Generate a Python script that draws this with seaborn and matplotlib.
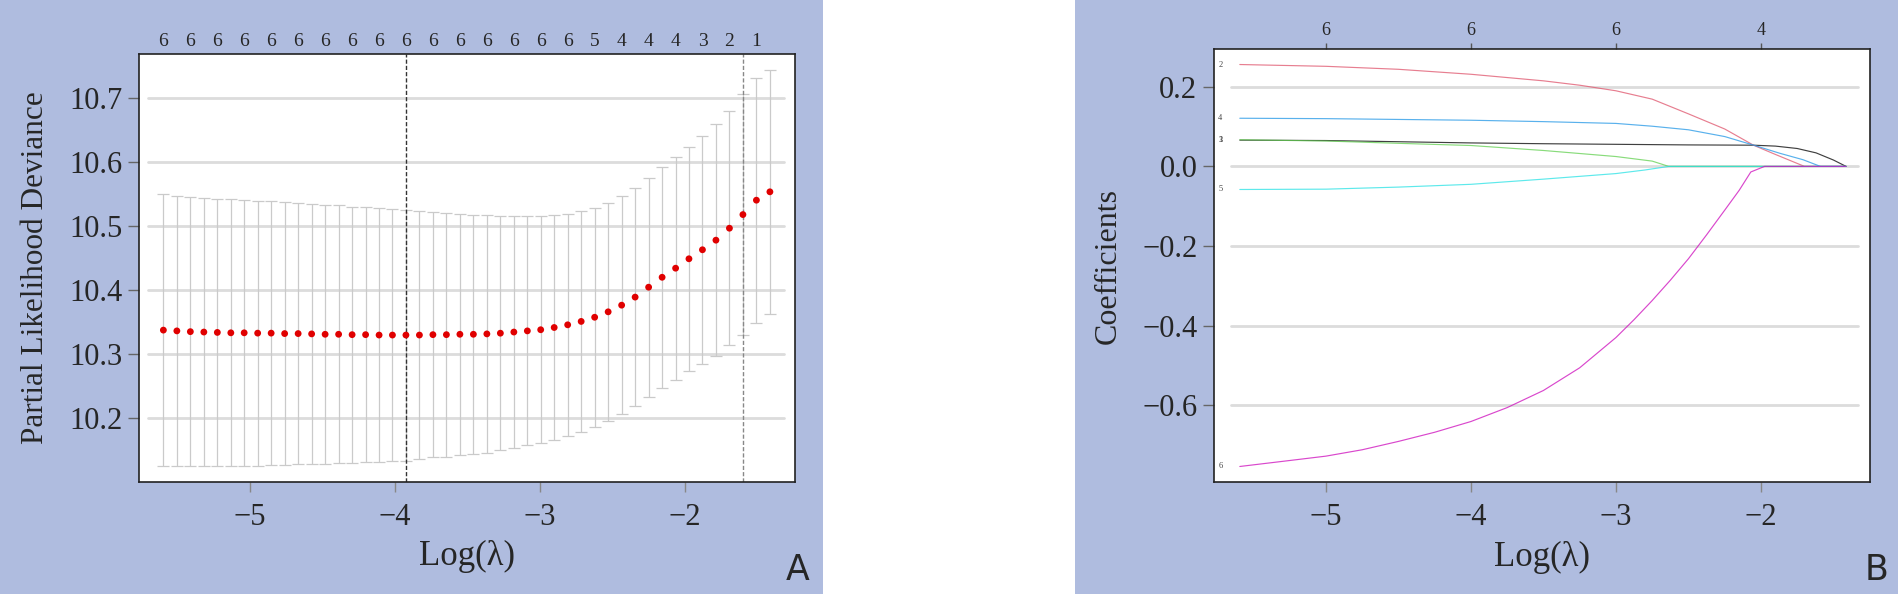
import numpy as np
import pandas as pd
import seaborn as sns
import matplotlib.pyplot as plt
from matplotlib.patches import Rectangle

# cross-validation curve (panel A)
log_lambda = [-5.594, -5.501, -5.408, -5.315, -5.222, -5.129, -5.037, -4.944, -4.851, -4.758,
              -4.665, -4.572, -4.479, -4.386, -4.293, -4.200, -4.107, -4.015, -3.922, -3.829,
              -3.736, -3.643, -3.550, -3.457, -3.364, -3.271, -3.178, -3.085, -2.993, -2.900,
              -2.807, -2.714, -2.621, -2.528, -2.435, -2.342, -2.249, -2.156, -2.063, -1.971,
              -1.878, -1.785, -1.692, -1.599, -1.506, -1.413]
cvm = [10.3374, 10.3362, 10.3350, 10.3344, 10.3338, 10.3332, 10.3332, 10.3327, 10.3327, 10.3320,
       10.3320, 10.3315, 10.3309, 10.3309, 10.3303, 10.3303, 10.3297, 10.3297, 10.3297, 10.3297,
       10.3303, 10.3303, 10.3309, 10.3309, 10.3315, 10.3326, 10.3344, 10.3362, 10.3380, 10.3415,
       10.3457, 10.3510, 10.3575, 10.3660, 10.3764, 10.3890, 10.4045, 10.4200, 10.4342, 10.4489,
       10.4630, 10.4780, 10.4967, 10.5180, 10.5405, 10.5536]
cvsd = [0.2126, 0.2115, 0.2104, 0.2098, 0.2092, 0.2086, 0.2080, 0.2073, 0.2062, 0.2057,
        0.2039, 0.2032, 0.2026, 0.2014, 0.2002, 0.1991, 0.1985, 0.1973, 0.1961, 0.1943,
        0.1919, 0.1908, 0.1884, 0.1872, 0.1854, 0.1831, 0.1807, 0.1789, 0.1771, 0.1755,
        0.1733, 0.1724, 0.1715, 0.1704, 0.1703, 0.1708, 0.1710, 0.1727, 0.1741, 0.1751,
        0.1780, 0.1813, 0.1833, 0.1887, 0.1912, 0.1906]
top_counts_A = ['6', '6', '6', '6', '6', '6', '6', '6', '6', '6', '6', '6', '6', '6', '6', '6',
                '5', '4', '4', '4', '3', '2', '1']
idx_min = 18
idx_1se = 43

# coefficient paths (panel B), one x list per variable
x_1 = [-5.594, -5.0, -4.5, -4.0, -3.5, -3.0, -2.5, -2.05, -1.9, -1.75, -1.62, -1.5, -1.413]
coef_1 = [0.066, 0.065, 0.062, 0.059, 0.057, 0.0555, 0.054, 0.0533, 0.051, 0.045, 0.034, 0.016, 0.0]
x_2 = [-5.594, -5.0, -4.5, -4.0, -3.5, -3.25, -3.0, -2.75, -2.5, -2.25, -2.05, -1.9, -1.8, -1.7, -1.413]
coef_2 = [0.256, 0.2515, 0.244, 0.2315, 0.215, 0.204, 0.19, 0.169, 0.132, 0.094, 0.053, 0.030,
          0.015, 0.0, 0.0]
x_3 = [-5.594, -5.0, -4.5, -4.0, -3.5, -3.0, -2.75, -2.636, -1.413]
coef_3 = [0.067, 0.0638, 0.058, 0.0525, 0.040, 0.0248, 0.0133, 0.0, 0.0]
x_4 = [-5.594, -5.0, -4.5, -4.0, -3.5, -3.0, -2.75, -2.5, -2.25, -2.05, -1.87, -1.71, -1.59, -1.413]
coef_4 = [0.121, 0.120, 0.118, 0.116, 0.1125, 0.108, 0.101, 0.092, 0.075, 0.0533, 0.033, 0.0168,
          0.0, 0.0]
x_5 = [-5.594, -5.0, -4.5, -4.0, -3.5, -3.0, -2.8, -2.636, -1.413]
coef_5 = [-0.058, -0.0572, -0.052, -0.045, -0.032, -0.018, -0.009, 0.0, 0.0]
x_6 = [-5.594, -5.25, -5.0, -4.75, -4.5, -4.25, -4.0, -3.75, -3.5, -3.25, -3.0, -2.875, -2.75,
       -2.625, -2.5, -2.375, -2.25, -2.15, -2.07, -1.975, -1.413]
coef_6 = [-0.754, -0.739, -0.728, -0.712, -0.691, -0.668, -0.641, -0.606, -0.563, -0.506, -0.43,
          -0.385, -0.337, -0.286, -0.232, -0.172, -0.110, -0.060, -0.014, 0.0, 0.0]
var_names = ['1', '2', '3', '4', '5', '6']
var_colors = ['#000000', '#DF536B', '#61D04F', '#2297E6', '#28E2E5', '#CD0BBC']
top_ticks_B = [-5, -4, -3, -2]
top_counts_B = ['6', '6', '6', '4']

sns.set_style('white')
plt.rcParams['font.family'] = ['Liberation Serif', 'DejaVu Serif']


def minus_fmt(fmt):
    return plt.FuncFormatter(lambda v, p: (fmt % v).replace('-', '\u2212'))


blue = '#afbcdf'
fig = plt.figure(figsize=(18.98, 5.94), dpi=100)
fig.patches.append(Rectangle((0, 0), 823 / 1898, 1, transform=fig.transFigure,
                             facecolor=blue, edgecolor='none', zorder=-5))
fig.patches.append(Rectangle((1075 / 1898, 0), 823 / 1898, 1, transform=fig.transFigure,
                             facecolor=blue, edgecolor='none', zorder=-5))

axA = fig.add_axes([139 / 1898, 1 - 482 / 594, 656 / 1898, 428 / 594])
axB = fig.add_axes([1214 / 1898, 1 - 482 / 594, 656 / 1898, 433 / 594])

# ---- panel A ----
for g in [10.2, 10.3, 10.4, 10.5, 10.6, 10.7]:
    axA.axhline(g, xmin=0.014, xmax=0.983, color='#dcdcdc', lw=2, zorder=0)
axA.errorbar(log_lambda, cvm, yerr=cvsd, fmt='none', ecolor='#cacaca',
             elinewidth=0.9, capsize=4, capthick=0.9, zorder=1)
sns.scatterplot(x=log_lambda, y=cvm, ax=axA, color='#e00000', s=24,
                edgecolor='none', zorder=3)
axA.axvline(log_lambda[idx_min], color='#333333', lw=1, dashes=(3, 1.5), zorder=2)
axA.axvline(log_lambda[idx_1se], color='#888888', lw=1, dashes=(3, 1.5), zorder=2)
axA.set_xlim(-5.762, -1.240)
axA.set_ylim(10.10, 10.769)
axA.set_xticks([-5, -4, -3, -2])
axA.set_yticks([10.2, 10.3, 10.4, 10.5, 10.6, 10.7])
axA.yaxis.set_major_formatter(minus_fmt('%.1f'))
axA.set_xlabel('Log(λ)', fontsize=25)
axA.set_ylabel('Partial Likelihood Deviance', fontsize=22.5)
topA = axA.secondary_xaxis('top')
topA.set_xticks(log_lambda[::2], labels=top_counts_A)
topA.tick_params(length=0, pad=3, labelsize=14)
topA.spines['top'].set_visible(False)

# ---- panel B ----
for g in [-0.6, -0.4, -0.2, 0.0, 0.2]:
    axB.axhline(g, xmin=0.026, xmax=0.982, color='#dcdcdc', lw=2, zorder=0)
xs = [x_1, x_2, x_3, x_4, x_5, x_6]
coefs = [coef_1, coef_2, coef_3, coef_4, coef_5, coef_6]
df = pd.concat([pd.DataFrame({'loglam': x, 'coef': c, 'var': n})
                for x, c, n in zip(xs, coefs, var_names)], ignore_index=True)
sns.lineplot(data=df, x='loglam', y='coef', hue='var', palette=var_colors,
             estimator=None, sort=False, legend=False, lw=0.85, alpha=0.75, ax=axB, zorder=2)
for name, x, c in zip(var_names, xs, coefs):
    axB.annotate(name, (x[0], c[0]), xytext=(-14, 0), textcoords='offset points',
                 fontsize=6, color='#444444', va='center', ha='center')
axB.set_xlim(-5.772, -1.248)
axB.set_ylim(-0.793, 0.295)
axB.set_xticks([-5, -4, -3, -2])
axB.set_yticks([-0.6, -0.4, -0.2, 0.0, 0.2])
axB.yaxis.set_major_formatter(minus_fmt('%.1f'))
axB.set_xlabel('Log(λ)', fontsize=25)
axB.set_ylabel('Coefficients', fontsize=23)
topB = axB.secondary_xaxis('top')
topB.set_xticks(top_ticks_B, labels=top_counts_B)
topB.tick_params(length=4, width=1, color='#555555', pad=3, labelsize=13)
topB.spines['top'].set_visible(False)

for ax in (axA, axB):
    ax.set_facecolor('white')
    for s in ax.spines.values():
        s.set_color('#222222')
        s.set_linewidth(1.2)
    ax.tick_params(axis='y', length=8, width=1, color='#666666', pad=4, labelsize=22)
    ax.tick_params(axis='x', length=7, width=1, color='#888888', pad=8, labelsize=22)
    ax.tick_params(left=True, bottom=True)
    ax.xaxis.set_major_formatter(minus_fmt('%d'))
    ax.xaxis.set_label_coords(0.5, -0.135)
axA.yaxis.set_label_coords(-0.136, 0.5)
axB.yaxis.set_label_coords(-0.139, 0.5)

fig.text(798 / 1898, 0.040, 'A', fontsize=25, family='DejaVu Sans', ha='center', va='center')
fig.text(1877 / 1898, 0.040, 'B', fontsize=25, family='DejaVu Sans', ha='center', va='center')

fig.savefig('out.png', dpi=100)
